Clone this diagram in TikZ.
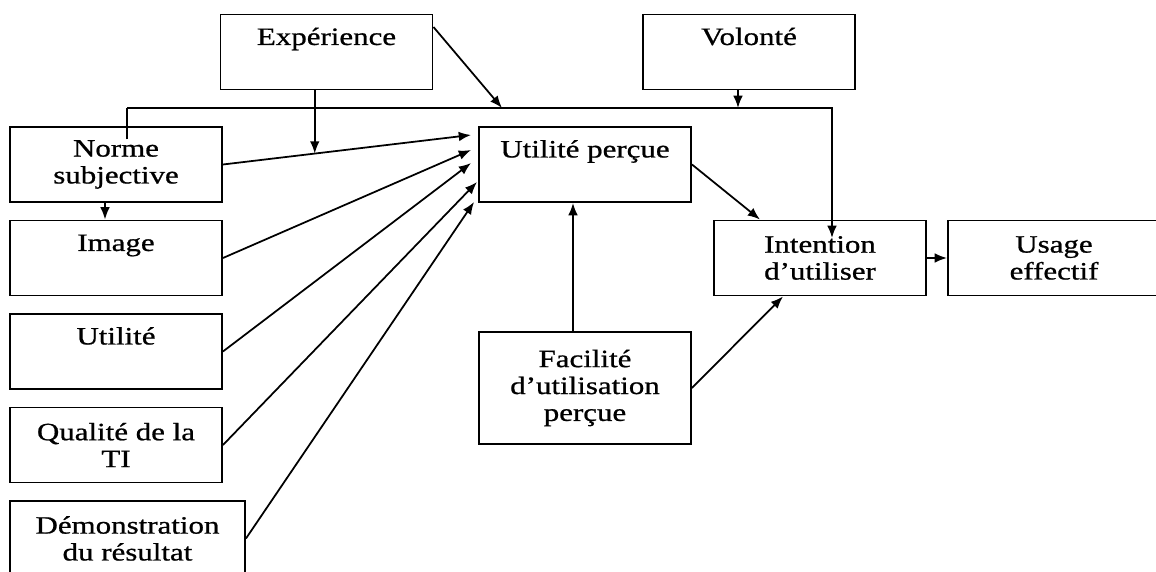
\documentclass[tikz,border=0pt]{standalone}
\usepackage{fontspec}
\setmainfont{Liberation Serif}[FakeStretch=1.24, FakeBold=0.8]
\usetikzlibrary{arrows.meta, positioning, calc}
\tikzstyle{block} = [rectangle, minimum width=4.24cm, minimum height=1.5cm, text centered, draw=black, line width=1.1pt, font=\fontsize{14.2}{15.3}\selectfont]
\tikzstyle{twoline} = [block, align=center]
\tikzstyle{topline} = [block, text height=11pt, text depth=19pt]
\tikzstyle{arrow} = [line width=1pt, ->, >={Latex[length=7pt, width=5.5pt]}]
\tikzstyle{line} = [line width=1pt]

\begin{document}
\begin{tikzpicture}[node distance=1.87cm]
\useasboundingbox (-2.32,3.29) rectangle (20.8,-8.15);
\node (norme) [twoline] {Norme\\subjective};
\node (image) [topline, below of=norme] {Image};
\node (utilite) [topline, below of=image] {Utilité};
\node (qualite) [twoline, below of=utilite] {Qualité de la\\TI};
\node (demo) [twoline, minimum width=4.7cm, below of=qualite, xshift=0.23cm] {Démonstration\\du résultat};
\node (exper) [topline, above of=norme, xshift=4.21cm, yshift=0.38cm] {Expérience};
\node (volon) [topline, right of=exper, xshift=6.58cm] {Volonté};
\node (percue) [topline, right of=norme, xshift=7.51cm] {Utilité perçue};
\node (facil) [twoline, minimum height=2.24cm, below of=percue, yshift=-2.6cm] {Facilité\\d’utilisation\\perçue};
\node (inten) [twoline, below of=percue, xshift=4.7cm] {Intention\\d’utiliser};
\node (usage) [twoline, right of=inten, xshift=2.81cm] {Usage\\effectif};

% bus line from Norme subjective to Intention
\coordinate (busL) at ([xshift=0.22cm, yshift=1.13cm]norme.center);
\coordinate (expin) at ([xshift=7.5cm]busL);
\coordinate (vol) at ([xshift=-0.22cm]volon.south);
\draw [line] ([xshift=0.22cm, yshift=0.5cm]norme.center) -- (busL);
\draw [arrow] (busL) -| ([xshift=0.24cm, yshift=0.4cm]inten.center);
\draw [arrow] ([yshift=0.5cm]exper.east) -- (expin);
\draw [arrow] (vol) -- (vol |- busL);

% into Utilite percue
\coordinate (nend) at ([xshift=-0.14cm, yshift=0.59cm]percue.west);
\coordinate (mod) at ($(norme.east)!0.37!(nend)$);
\draw [arrow] (norme.east) -- (nend);
\draw [arrow] (mod |- exper.south) -- (mod);
\draw [arrow] (image.east) -- ([xshift=-0.14cm, yshift=0.29cm]percue.west);
\draw [arrow] (utilite.east) -- ([xshift=-0.14cm, yshift=0.03cm]percue.west);
\draw [arrow] (qualite.east) -- ([xshift=-0.02cm, yshift=-0.35cm]percue.west);
\draw [arrow] (demo.east) -- ([xshift=-0.08cm, yshift=-0.75cm]percue.west);
\draw [arrow] ([xshift=-0.22cm]norme.south) -- ([xshift=-0.22cm]image.north);
\draw [arrow] ([xshift=-0.24cm]facil.north) -- ([xshift=-0.24cm]percue.south);

% into Intention and Usage
\draw [arrow] (percue.east) -- ([xshift=-1.2cm]inten.north);
\draw [arrow] (facil.east) -- ([xshift=-0.74cm]inten.south);
\draw [arrow] (inten.east) -- (usage.west);
\end{tikzpicture}
\end{document}
